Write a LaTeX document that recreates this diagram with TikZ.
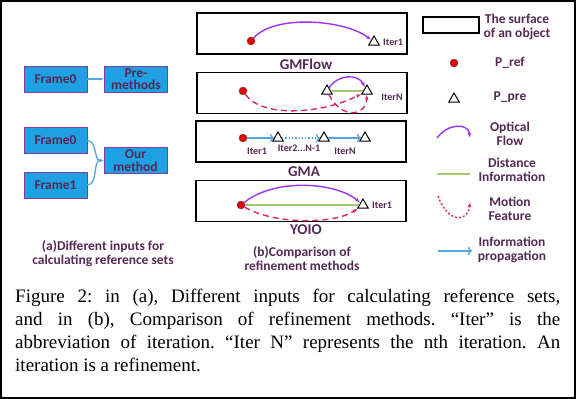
\documentclass[tikz,border=0pt]{standalone}
\usepackage{fontspec}
\setmainfont{Liberation Serif}
\newfontfamily\labelfont{Carlito}
\usetikzlibrary{shapes.geometric, arrows.meta, positioning}

\definecolor{boxblue}{RGB}{30,160,226}
\definecolor{boxedge}{RGB}{130,60,160}
\definecolor{inktext}{RGB}{85,40,85}
\definecolor{flowpurple}{RGB}{155,50,250}
\definecolor{motionpink}{RGB}{215,40,110}
\definecolor{distgreen}{RGB}{165,200,115}
\definecolor{infoblue}{RGB}{85,165,225}
\definecolor{refred}{RGB}{230,0,0}

\begin{document}
\begin{tikzpicture}[
    x=1pt, y=-1pt,
    block/.style={rectangle, draw=boxedge, fill=boxblue, minimum width=63pt, minimum height=26pt, inner sep=0pt, align=center, text=inktext, font=\labelfont\bfseries\fontsize{13.5}{12.5}\selectfont},
    surface/.style={rectangle, draw, line width=1.3pt, minimum width=210pt, minimum height=41pt},
    pref/.style={circle, draw=black!70, fill=refred, minimum size=8pt, inner sep=0pt},
    ppre/.style={regular polygon, regular polygon sides=3, draw, line width=1pt, fill=white, minimum size=12pt, inner sep=0pt},
    caption/.style={text=inktext, align=center, font=\labelfont\bfseries\fontsize{13.5}{14}\selectfont},
    method/.style={text=inktext, font=\labelfont\bfseries\fontsize{15}{16}\selectfont},
    iter/.style={text=inktext, font=\labelfont\bfseries\fontsize{10}{10}\selectfont, inner sep=1pt},
    optflow/.style={draw=flowpurple, line width=1.4pt, -{Latex[length=5pt]}},
    distline/.style={draw=distgreen, line width=1.3pt},
    motion/.style={draw=motionpink, line width=1.4pt, dash pattern=on 6pt off 4pt, -{Latex[length=5pt]}},
    info/.style={draw=infoblue, line width=1.3pt, -{To[length=4pt]}},
    feed/.style={draw=infoblue, line width=1.3pt, -{Latex[length=4pt]}}
]
\useasboundingbox (0,0) rectangle (576,399);
\draw[line width=2pt] (1,1) rectangle (575,398);

% (a) inputs
\node [block] (frameA) at (55.5,79) {Frame0};
\node [block, right=17pt of frameA] (pre) {Pre-\\methods};
\node [block] (frameB) at (55.5,140.5) {Frame0};
\node [block, below=18pt of frameB] (frameC) {Frame1};
\node [block] (ours) at (135.5,160.5) {Our\\method};
\node [caption] (capA) at (103,254) {(a)Different inputs for\\calculating reference sets};

\path [feed] (frameA) -- (pre);
\path [feed] (frameB.east) to[out=0, in=180] (ours.west);
\path [feed] (frameC.east) to[out=0, in=180] (ours.west);

% (b) refinement
\node [surface] (surf1) at (302,33.5) {};
\node [method] (gmflow) at (306,64) {GMFlow};
\node [surface] (surf2) at (302,93) {};
\node [surface] (surf3) at (301,141.5) {};
\node [method] (gma) at (304,172) {GMA};
\node [surface] (surf4) at (301,201) {};
\node [method] (yoio) at (306,230) {YOIO};
\node [caption] (capB) at (302,259) {(b)Comparison of\\refinement methods};

% GMFlow
\node [pref] (ref1) at (251,41) {};
\node [ppre] (pre1) at (374,42) {};
\node [iter, right=4pt of pre1] {Iter1};
\path [optflow] (ref1) .. controls (275,14) and (345,20) .. (pre1);

% iterated GMFlow
\node [pref] (ref2) at (243,91) {};
\node [ppre] (preA2) at (327,91) {};
\node [ppre] (preB2) at (367,91) {};
\node [iter] at (392,97) {IterN};
\path [distline] (preA2) -- (preB2);
\path [optflow] (preA2) .. controls (338,74) and (358,74) .. (preB2);
\path [motion] (ref2) .. controls (262,118) and (322,114) .. (preB2);
\path [motion] (preA2) .. controls (342,120) and (366,116) .. (preB2);

% GMA
\node [pref] (ref3) at (243,138) {};
\node [ppre] (preA3) at (278,138) {};
\node [ppre] (preB3) at (324,138) {};
\node [ppre] (preC3) at (365,138) {};
\path [info] (ref3) -- (preA3);
\path [info, dotted] (preA3) -- (preB3);
\path [info] (preB3) -- (preC3);
\node [iter] at (257,151) {Iter1};
\node [iter] at (299,148) {Iter2...N-1};
\node [iter] at (345,151) {IterN};

% YOIO
\node [pref] (ref4) at (241,205) {};
\node [ppre] (pre4) at (363,205) {};
\node [iter, right=4pt of pre4] {Iter1};
\path [distline] (ref4) -- (pre4);
\path [optflow] (ref4) .. controls (275,178) and (335,182) .. (pre4);
\path [motion] (ref4) .. controls (275,225) and (335,224) .. (pre4);

% legend
\node [rectangle, draw, line width=1.3pt, minimum width=56pt, minimum height=16pt] (keySurf) at (451,25) {};
\node [caption] at (517,27) {The surface\\of an object};
\node [pref] (keyRef) at (454,63) {};
\node [caption] at (510,63) {P\_ref};
\node [ppre] (keyPre) at (454,99) {};
\node [caption] at (510,97) {P\_pre};
\coordinate (flowS) at (437,138);
\coordinate (flowE) at (470,138);
\path [optflow] (flowS) .. controls (448,123) and (468,123) .. (flowE);
\node [caption] at (510,134) {Optical\\Flow};
\coordinate (distS) at (437,174);
\coordinate (distE) at (470,174);
\path [distline] (distS) -- (distE);
\node [caption] at (512,170) {Distance\\Information};
\coordinate (motS) at (438,196);
\coordinate (motE) at (470,202);
\path [motion, dash pattern=on 2pt off 2pt] (motS) .. controls (448,224) and (468,222) .. (motE);
\node [caption] at (510,209) {Motion\\Feature};
\coordinate (infoS) at (438,251);
\coordinate (infoE) at (472,251);
\path [info] (infoS) -- (infoE);
\node [caption] at (512,250) {Information\\propagation};

% figure caption
\node [anchor=north west, text width=545pt, align=justify, inner sep=0pt, font=\fontsize{19}{23}\selectfont\frenchspacing] (figcap) at (15,289) {Figure 2: in (a), Different inputs for calculating reference sets,\linebreak and in (b), Comparison of refinement methods. “Iter” is the\linebreak abbreviation of iteration. “Iter N” represents the nth iteration. An\linebreak iteration is a refinement.};
\end{tikzpicture}
\end{document}
